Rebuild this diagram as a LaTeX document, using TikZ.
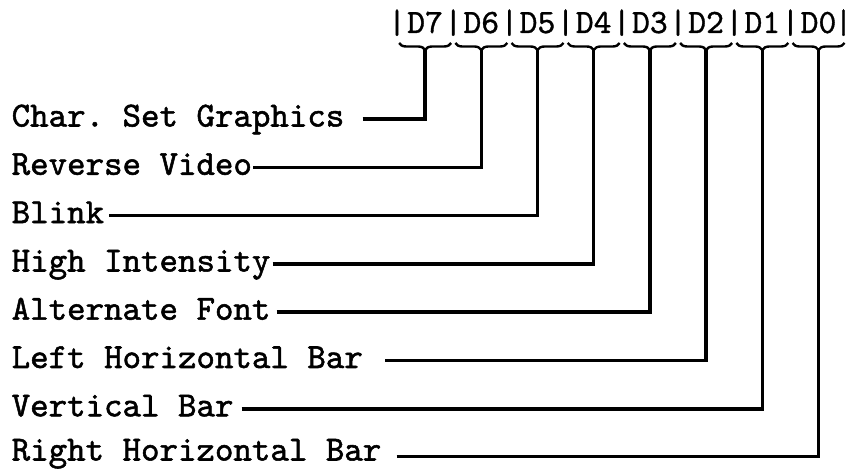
\documentclass[tikz,border=0pt]{standalone}
\usepackage{fontspec}
\usetikzlibrary{decorations.pathreplacing}
\newfontfamily\tw{lmmono10-regular.otf}[FakeBold=1.5]
\newfontfamily\twh{lmmono10-regular.otf}[FakeBold=1]
\begin{document}
\begin{tikzpicture}[x=1pt,y=1pt,
  lbl/.style={font=\tw\fontsize{35.2}{40}\selectfont\frenchspacing, inner sep=0pt, anchor=base west},
  hdr/.style={font=\twh\fontsize{34}{40}\selectfont, inner sep=0pt, anchor=base},
  wire/.style={line width=3.5pt, line join=miter, line cap=butt},
  brc/.style={line width=2.4pt, decorate, decoration={brace, mirror, amplitude=7pt}}]
\useasboundingbox (0,0) rectangle (853,468);
\foreach \i in {0,...,7} \node[hdr] (bar\i) at (397+56.2*\i, 435) {|};
\node[hdr] (bar8) at (843.5, 435) {|};
\foreach \j/\b in {0/7,1/6,2/5,3/4,4/3,5/2,6/1,7/0} {
  \node[hdr] (d\b) at (425.1+56.2*\j, 435) {D\b};
  \draw[brc] (425.1+56.2*\j-26, 425) -- (425.1+56.2*\j+26, 425);
  \coordinate (t\b) at (425.1+56.2*\j, 418);
}
\node[lbl] (l7) at (11.5, 341.5) {Char. Set Graphics};
\node[lbl] (l6) at (11.5, 293.2) {Reverse Video};
\node[lbl] (l5) at (11.5, 244.9) {Blink};
\node[lbl] (l4) at (11.5, 196.5) {High Intensity};
\node[lbl] (l3) at (11.5, 148.3) {Alternate Font};
\node[lbl] (l2) at (11.5, 100) {Left Horizontal Bar};
\node[lbl] (l1) at (11.5, 51.7) {Vertical Bar};
\node[lbl] (l0) at (11.5, 7.5) {Right Horizontal Bar};
\draw[wire] ([xshift=18pt, yshift=7.5pt]l7.base east) -| (t7);
\draw[wire] ([xshift=1pt, yshift=7.5pt]l6.base east) -| (t6);
\draw[wire] ([xshift=5pt, yshift=7.5pt]l5.base east) -| (t5);
\draw[wire] ([xshift=2pt, yshift=7.5pt]l4.base east) -| (t4);
\draw[wire] ([xshift=6pt, yshift=7.5pt]l3.base east) -| (t3);
\draw[wire] ([xshift=22pt, yshift=7.5pt]l2.base east) -| (t2);
\draw[wire] ([xshift=8pt, yshift=7.5pt]l1.base east) -| (t1);
\draw[wire] ([xshift=15pt, yshift=4pt]l0.base east) -| (t0);
\end{tikzpicture}
\end{document}
